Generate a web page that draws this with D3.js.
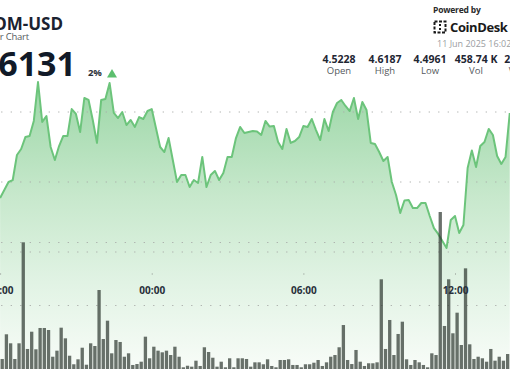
<!DOCTYPE html>
<html>
<head>
<meta charset="utf-8">
<script src="https://cdn.jsdelivr.net/npm/d3@7"></script>
<style>
  html, body { margin: 0; padding: 0; background: #fff; overflow: hidden; }
  svg { display: block; font-family: "Open Sans", "Noto Sans", sans-serif; }
</style>
</head>
<body>
<svg id="chart" width="510" height="369"></svg>
<script>
// 10 minute closes, first one at 18:00 on 10 Jun
var prices = [
	4.5386, 4.5443, 4.5500, 4.5514, 4.5693, 4.5736, 4.5821, 4.5829, 4.5936, 4.6214,
	4.5929, 4.5971, 4.5750, 4.5657, 4.5757, 4.5829, 4.5829, 4.6021, 4.5986, 4.5857,
	4.6100, 4.6086, 4.5943, 4.5779, 4.6086, 4.6093, 4.6207, 4.5993, 4.5957, 4.6000,
	4.5907, 4.5943, 4.5893, 4.5964, 4.5950, 4.6007, 4.6021, 4.5886, 4.5750, 4.5714,
	4.5814, 4.5657, 4.5500, 4.5550, 4.5550, 4.5464, 4.5514, 4.5493, 4.5679, 4.5464,
	4.5550, 4.5579, 4.5514, 4.5564, 4.5679, 4.5679, 4.5814, 4.5893, 4.5850, 4.5857,
	4.5864, 4.5861, 4.5836, 4.5936, 4.5896, 4.5900, 4.5786, 4.5736, 4.5879, 4.5779,
	4.5793, 4.5821, 4.5900, 4.5893, 4.5950, 4.5871, 4.5800, 4.5950, 4.5864, 4.6000,
	4.6064, 4.6086, 4.6043, 4.6007, 4.6100, 4.5950, 4.6071, 4.6014, 4.5779, 4.5771,
	4.5714, 4.5650, 4.5679, 4.5500, 4.5407, 4.5279, 4.5368, 4.5371, 4.5314, 4.5314,
	4.5350, 4.5350, 4.5257, 4.5171, 4.5129, 4.5079, 4.5029, 4.5229, 4.5257, 4.5136,
	4.5193, 4.5600, 4.5725, 4.5607, 4.5757, 4.5786, 4.5879, 4.5836, 4.5686, 4.5629,
	4.5679, 4.5993
];

// volume per 10 minutes, thousands
var volumes = [
	1.51, 5.43, 4.00, 1.51, 4.00, 20.03, 3.10, 5.84, 3.05, 6.43,
	6.43, 6.11, 1.87, 2.83, 6.48, 4.79, 2.03, 0.67, 1.46, 3.30,
	0.60, 4.00, 3.57, 12.46, 4.68, 7.59, 2.41, 4.52, 4.21, 1.87,
	2.41, 0.56, 0.71, 1.08, 5.05, 1.62, 3.46, 2.83, 2.57, 2.83,
	2.14, 3.46, 1.87, 0.19, 0.44, 0.29, 1.24, 0.40, 3.37, 2.62,
	1.71, 0.29, 1.08, 0.19, 1.62, 0.19, 1.62, 1.62, 1.51, 0.29,
	0.98, 0.98, 0.67, 1.46, 0.40, 0.19, 1.35, 1.35, 1.46, 0.56,
	0.56, 0.19, 0.67, 0.67, 0.92, 1.35, 0.40, 0.98, 1.87, 2.14,
	3.37, 6.90, 1.35, 0.71, 2.94, 1.08, 0.40, 0.83, 0.83, 0.98,
	14.16, 3.10, 7.70, 2.14, 5.48, 7.43, 1.46, 0.56, 1.35, 0.98,
	0.56, 0.19, 2.41, 2.14, 24.84, 6.75, 14.16, 5.59, 8.86, 3.73,
	15.90, 3.84, 1.51, 1.87, 1.62, 1.08, 3.10, 1.24, 1.87, 1.24,
	2.30, 5.05
];

var tickLabels = ["18:00", "00:00", "06:00", "12:00"];
var priceTicks = [4.50, 4.55, 4.60];
var volumeTicks = [10, 20];

var statValues = ["4.5228", "4.6187", "4.4961", "458.74 K", "2.09 M"];
var statLabels = ["Open", "High", "Low", "Vol", "Value"];

var startTime = Date.UTC(2025, 5, 10, 18, 0);
var step = 10 * 60 * 1000;
var times = prices.map(function (d, i) { return new Date(startTime + i * step); });

var svg = d3.select("#chart");

var x = d3.scaleUtc()
	.domain([new Date(startTime), new Date(Date.UTC(2025, 5, 11, 12, 0))])
	.range([0.1, 455]);

var yPrice = d3.scaleLinear().domain([4.50, 4.60]).range([252, 112]);
var yVol = d3.scaleLinear().domain([0, 10]).range([368.5, 305.5]);

// area gradient
var defs = svg.append("defs");
var grad = defs.append("linearGradient")
	.attr("id", "areaFill")
	.attr("gradientUnits", "userSpaceOnUse")
	.attr("x1", 0).attr("y1", 80).attr("x2", 0).attr("y2", 369);
grad.append("stop").attr("offset", 0).attr("stop-color", "#9ad6a5");
grad.append("stop").attr("offset", 0.4).attr("stop-color", "#c7e8cc");
grad.append("stop").attr("offset", 0.7).attr("stop-color", "#e1f3e4");
grad.append("stop").attr("offset", 1).attr("stop-color", "#f8fcf8");

var area = d3.area()
	.x(function (d, i) { return x(times[i]); })
	.y0(369)
	.y1(function (d) { return yPrice(d); });

var line = d3.line()
	.x(function (d, i) { return x(times[i]); })
	.y(function (d) { return yPrice(d); });

svg.append("path")
	.datum(prices)
	.attr("d", area)
	.attr("fill", "url(#areaFill)");

// dotted grid
var gridY = priceTicks.map(yPrice).concat(volumeTicks.map(yVol));
svg.append("g").selectAll("line")
	.data(gridY)
	.join("line")
	.attr("x1", 1.2).attr("x2", 510)
	.attr("y1", function (d) { return d; })
	.attr("y2", function (d) { return d; })
	.attr("stroke", "#a9aca9")
	.attr("stroke-width", 1)
	.attr("stroke-dasharray", "1.2 8.3");

svg.append("path")
	.datum(prices)
	.attr("d", line)
	.attr("fill", "none")
	.attr("stroke", "#6cc47b")
	.attr("stroke-width", 2)
	.attr("stroke-linejoin", "round");

// volume bars
svg.append("g").selectAll("rect")
	.data(volumes)
	.join("rect")
	.attr("x", function (d, i) { return x(times[i]) + 0.45; })
	.attr("width", function (d, i) { return x(new Date(+times[i] + step)) - x(times[i]) - 0.9; })
	.attr("y", function (d) { return yVol(d); })
	.attr("height", function (d) { return yVol(0) - yVol(d) + 2; })
	.attr("fill", "#2b352d")
	.attr("fill-opacity", 0.7);

// time axis
var tickDates = tickLabels.map(function (d, i) { return new Date(startTime + i * 6 * 3600 * 1000); });
var axis = d3.axisBottom(x)
	.tickValues(tickDates)
	.tickFormat(function (d, i) { return tickLabels[i]; })
	.tickSize(1)
	.tickPadding(12);

var gx = svg.append("g")
	.attr("transform", "translate(0,273.5)")
	.call(axis);
gx.select(".domain").remove();
gx.selectAll(".tick line").attr("stroke", "#8a8f8a");
gx.selectAll(".tick text")
	.attr("fill", "#28303a")
	.attr("font-size", 10)
	.attr("font-weight", 700)
	.attr("font-family", "Open Sans, sans-serif");

// header, left
svg.append("text")
	.attr("x", 63).attr("y", 29.5)
	.attr("text-anchor", "end")
	.attr("font-size", 17).attr("font-weight", 700)
	.attr("fill", "#1b2230")
	.text("ATOM-USD");

svg.append("text")
	.attr("x", 29).attr("y", 39.5)
	.attr("text-anchor", "end")
	.attr("font-size", 9.5)
	.attr("fill", "#555a60")
	.attr("letter-spacing", -0.2)
	.text("24 Hour Chart");

svg.append("text")
	.attr("x", 76).attr("y", 76)
	.attr("text-anchor", "end")
	.attr("font-size", 34).attr("font-weight", 700)
	.attr("fill", "#111a28")
	.text("4.6131");

svg.append("text")
	.attr("x", 88).attr("y", 76)
	.attr("font-size", 9.5).attr("font-weight", 700)
	.attr("fill", "#2b3038")
	.attr("letter-spacing", -0.3)
	.text("2%");

svg.append("path")
	.attr("d", "M107,77.5L117,77.5L112,69Z")
	.attr("fill", "#5cbf6e");

// header, right
svg.append("text")
	.attr("x", 433).attr("y", 13)
	.attr("font-size", 8.5).attr("font-weight", 700)
	.attr("fill", "#2a2a2a")
	.attr("letter-spacing", -0.2)
	.text("Powered by");

var logo = svg.append("g").attr("transform", "translate(434,21)");
logo.append("rect")
	.attr("x", 0.5).attr("y", 0.5).attr("width", 11).attr("height", 11)
	.attr("fill", "none")
	.attr("stroke", "#1a1a1a")
	.attr("stroke-width", 2)
	.attr("stroke-dasharray", "3 1.5");
logo.append("rect")
	.attr("x", 5).attr("y", 3).attr("width", 2).attr("height", 2)
	.attr("fill", "#1a1a1a");
logo.append("rect")
	.attr("x", 5).attr("y", 7).attr("width", 2).attr("height", 2)
	.attr("fill", "#1a1a1a");

svg.append("text")
	.attr("x", 450).attr("y", 31.5)
	.attr("font-size", 13).attr("font-weight", 700)
	.attr("fill", "#1a1a1a")
	.attr("letter-spacing", -0.4)
	.text("CoinDesk");

svg.append("text")
	.attr("x", 437).attr("y", 47)
	.attr("font-size", 9)
	.attr("fill", "#9a9d9f")
	.text("11 Jun 2025 16:02");

var statX = [339, 385, 430, 476, 521];
var stat = svg.append("g").selectAll("g")
	.data(statValues)
	.join("g")
	.attr("transform", function (d, i) { return "translate(" + statX[i] + ",0)"; });

stat.append("text")
	.attr("y", 62.5)
	.attr("text-anchor", "middle")
	.attr("font-size", 10.5).attr("font-weight", 700)
	.attr("fill", "#1f2633")
	.text(function (d) { return d; });

stat.append("text")
	.attr("y", 74)
	.attr("text-anchor", "middle")
	.attr("font-size", 9.5)
	.attr("fill", "#555a60")
	.text(function (d, i) { return statLabels[i]; });
</script>
</body>
</html>
